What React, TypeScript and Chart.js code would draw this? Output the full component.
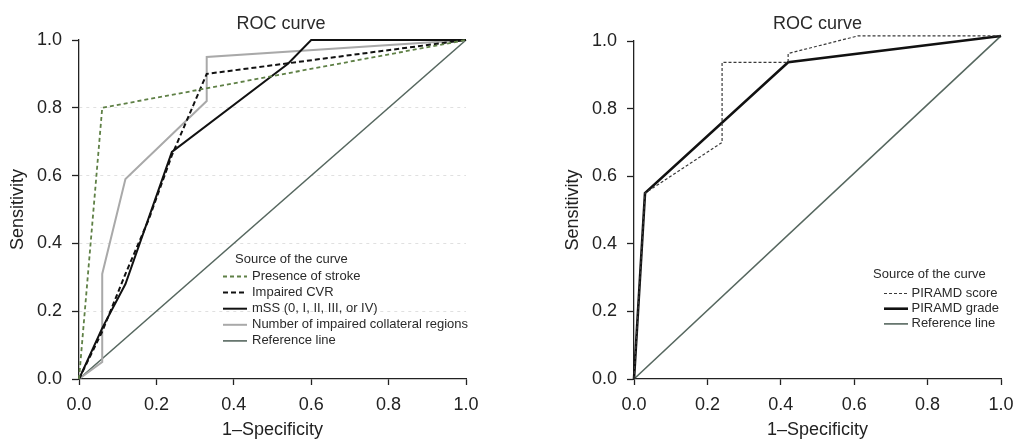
import React, { useEffect, useRef } from "react";
import { Chart, registerables } from "chart.js";

Chart.register(...registerables);

const FONT = '"Liberation Sans", Arial, Helvetica, sans-serif';

// ---- Left chart data ----
const strokeX = [0, 0.06, 1];
const strokeY = [0, 0.8, 1];
const cvrX = [0, 0.06, 0.12, 0.18, 0.24, 0.33, 1];
const cvrY = [0, 0.14, 0.31, 0.47, 0.66, 0.9, 1];
const mssX = [0, 0.06, 0.12, 0.24, 0.54, 0.6, 1];
const mssY = [0, 0.15, 0.28, 0.67, 0.93, 1, 1];
const collX = [0, 0.06, 0.06, 0.12, 0.33, 0.33, 1];
const collY = [0, 0.05, 0.31, 0.59, 0.82, 0.95, 1];
const refLX = [0, 1];
const refLY = [0, 1];

// ---- Right chart data ----
const scoreX = [0, 0.03, 0.24, 0.24, 0.42, 0.42, 0.61, 1];
const scoreY = [0, 0.55, 0.7, 0.937, 0.937, 0.963, 1.015, 1.015];
const gradeX = [0, 0.03, 0.42, 1];
const gradeY = [0, 0.55, 0.937, 1.015];
const refRX = [0, 1];
const refRY = [0, 1.015];

const leftLabels = [
  "Presence of stroke",
  "Impaired CVR",
  "mSS (0, I, II, III, or IV)",
  "Number of impaired collateral regions",
  "Reference line",
];
const rightLabels = ["PIRAMD score", "PIRAMD grade", "Reference line"];

const chartTitle = "ROC curve";
const legendTitle = "Source of the curve";
const xTitle = "1\u2013Specificity";
const yTitle = "Sensitivity";

function pts(xs: number[], ys: number[]) {
  return xs.map((x, i) => ({ x, y: ys[i] }));
}

function overlayPlugin(cfg: any) {
  return {
    id: "overlay",
    afterDraw(chart: any) {
      const ctx = chart.ctx;
      ctx.save();
      ctx.fillStyle = "#2a2a2a";
      ctx.font = `18px ${FONT}`;
      ctx.textAlign = "center";
      ctx.textBaseline = "middle";
      ctx.fillText(chartTitle, cfg.titleX, cfg.titleY);
      ctx.font = `13px ${FONT}`;
      ctx.textAlign = "left";
      ctx.fillText(legendTitle, cfg.legendTitleX, cfg.legendTitleY);
      chart.data.datasets.forEach((ds: any, i: number) => {
        const y = cfg.firstY + i * cfg.step;
        ctx.beginPath();
        ctx.setLineDash(ds.borderDash || []);
        ctx.lineWidth = ds.borderWidth;
        ctx.strokeStyle = ds.borderColor;
        ctx.moveTo(cfg.sampleX, y);
        ctx.lineTo(cfg.sampleX + cfg.sampleW, y);
        ctx.stroke();
        ctx.setLineDash([]);
        ctx.fillText(ds.label, cfg.textX, y);
      });
      ctx.restore();
    },
  };
}

function makeScales(o: any) {
  return {
    x: {
      type: "linear",
      min: 0,
      max: 1,
      afterFit: (s: any) => {
        s.height = o.xh;
        s.paddingLeft = 0;
        s.paddingRight = 0;
      },
      ticks: {
        stepSize: 0.2,
        autoSkip: false,
        maxRotation: 0,
        callback: (v: any) => Number(v).toFixed(1),
        font: { family: FONT, size: 18 },
        color: "#222",
        padding: 9,
      },
      grid: {
        drawOnChartArea: false,
        tickLength: 6,
        tickColor: "#222",
        tickWidth: 1.3,
      },
      border: { color: "#222", width: 1.3 },
      title: {
        display: true,
        text: xTitle,
        font: { family: FONT, size: 18, lineHeight: 1 },
        color: "#222",
        padding: { top: 0, bottom: 0 },
      },
    },
    y: {
      type: "linear",
      min: 0,
      max: 1,
      afterFit: (s: any) => {
        s.width = o.yw;
        s.paddingTop = 0;
        s.paddingBottom = 0;
      },
      ticks: {
        stepSize: 0.2,
        autoSkip: false,
        callback: (v: any) => Number(v).toFixed(1),
        font: { family: FONT, size: 18 },
        color: "#222",
        padding: 10,
      },
      grid: {
        drawOnChartArea: o.grid,
        color: (c: any) =>
          c.tick && c.tick.value > 0.01 && c.tick.value < 0.99 ? "#e0e0e0" : "rgba(0,0,0,0)",
        tickLength: 7,
        tickColor: "#222",
        tickWidth: 1.3,
        tickBorderDash: [],
      },
      border: { color: "#222", width: 1.3, dash: [3, 4] },
      title: {
        display: true,
        text: yTitle,
        font: { family: FONT, size: 18, lineHeight: 1 },
        color: "#222",
        padding: { top: o.ytPad, bottom: 0 },
      },
    },
  };
}

function line(label: string, xs: number[], ys: number[], color: string, width: number, dash: number[]) {
  return {
    label,
    data: pts(xs, ys),
    borderColor: color,
    backgroundColor: color,
    borderWidth: width,
    borderDash: dash,
    showLine: true,
    pointRadius: 0,
    pointHoverRadius: 0,
    tension: 0,
    fill: false,
    clip: false,
  };
}

export default function App() {
  const leftRef = useRef<HTMLCanvasElement | null>(null);
  const rightRef = useRef<HTMLCanvasElement | null>(null);

  useEffect(() => {
    const common = {
      responsive: false,
      animation: false,
      events: [],
      plugins: { legend: { display: false }, tooltip: { enabled: false }, title: { display: false } },
    };
    const left = new Chart(leftRef.current as HTMLCanvasElement, {
      type: "scatter",
      data: {
        datasets: [
          line(leftLabels[0], strokeX, strokeY, "#5f8046", 1.8, [4, 3]),
          line(leftLabels[1], cvrX, cvrY, "#111", 2, [5, 3]),
          line(leftLabels[2], mssX, mssY, "#111", 2, []),
          line(leftLabels[3], collX, collY, "#a9a9a9", 2, []),
          line(leftLabels[4], refLX, refLY, "#56675f", 1.6, []),
        ],
      } as any,
      options: {
        ...common,
        layout: { padding: { left: 0, right: 40, top: 40, bottom: 0 } },
        scales: makeScales({ xh: 60, yw: 79, grid: true, ytPad: 9 }),
      } as any,
      plugins: [
        overlayPlugin({
          titleX: 281,
          titleY: 24,
          legendTitleX: 235,
          legendTitleY: 259,
          sampleX: 223,
          sampleW: 24,
          textX: 252,
          firstY: 276.5,
          step: 16.1,
        }),
      ],
    } as any);

    const right = new Chart(rightRef.current as HTMLCanvasElement, {
      type: "scatter",
      data: {
        datasets: [
          line(rightLabels[0], scoreX, scoreY, "#3a3a3a", 1.2, [3, 2]),
          line(rightLabels[1], gradeX, gradeY, "#111", 2.6, []),
          line(rightLabels[2], refRX, refRY, "#56675f", 1.6, []),
        ],
      } as any,
      options: {
        ...common,
        layout: { padding: { left: 0, right: 12, top: 41, bottom: 0 } },
        scales: makeScales({ xh: 60, yw: 128, grid: false, ytPad: 58 }),
      } as any,
      plugins: [
        overlayPlugin({
          titleX: 311.5,
          titleY: 24,
          legendTitleX: 367,
          legendTitleY: 274.5,
          sampleX: 378,
          sampleW: 24,
          textX: 405.5,
          firstY: 293.5,
          step: 15.2,
        }),
      ],
    } as any);

    return () => {
      left.destroy();
      right.destroy();
    };
  }, []);

  return (
    <div
      style={{
        position: "absolute",
        left: 0,
        top: 0,
        width: 1013,
        height: 439,
        overflow: "hidden",
        background: "#fff",
      }}
    >
      <canvas ref={leftRef} width={506} height={439} style={{ position: "absolute", left: 0, top: 0 }} />
      <canvas ref={rightRef} width={507} height={439} style={{ position: "absolute", left: 506, top: 0 }} />
    </div>
  );
}
